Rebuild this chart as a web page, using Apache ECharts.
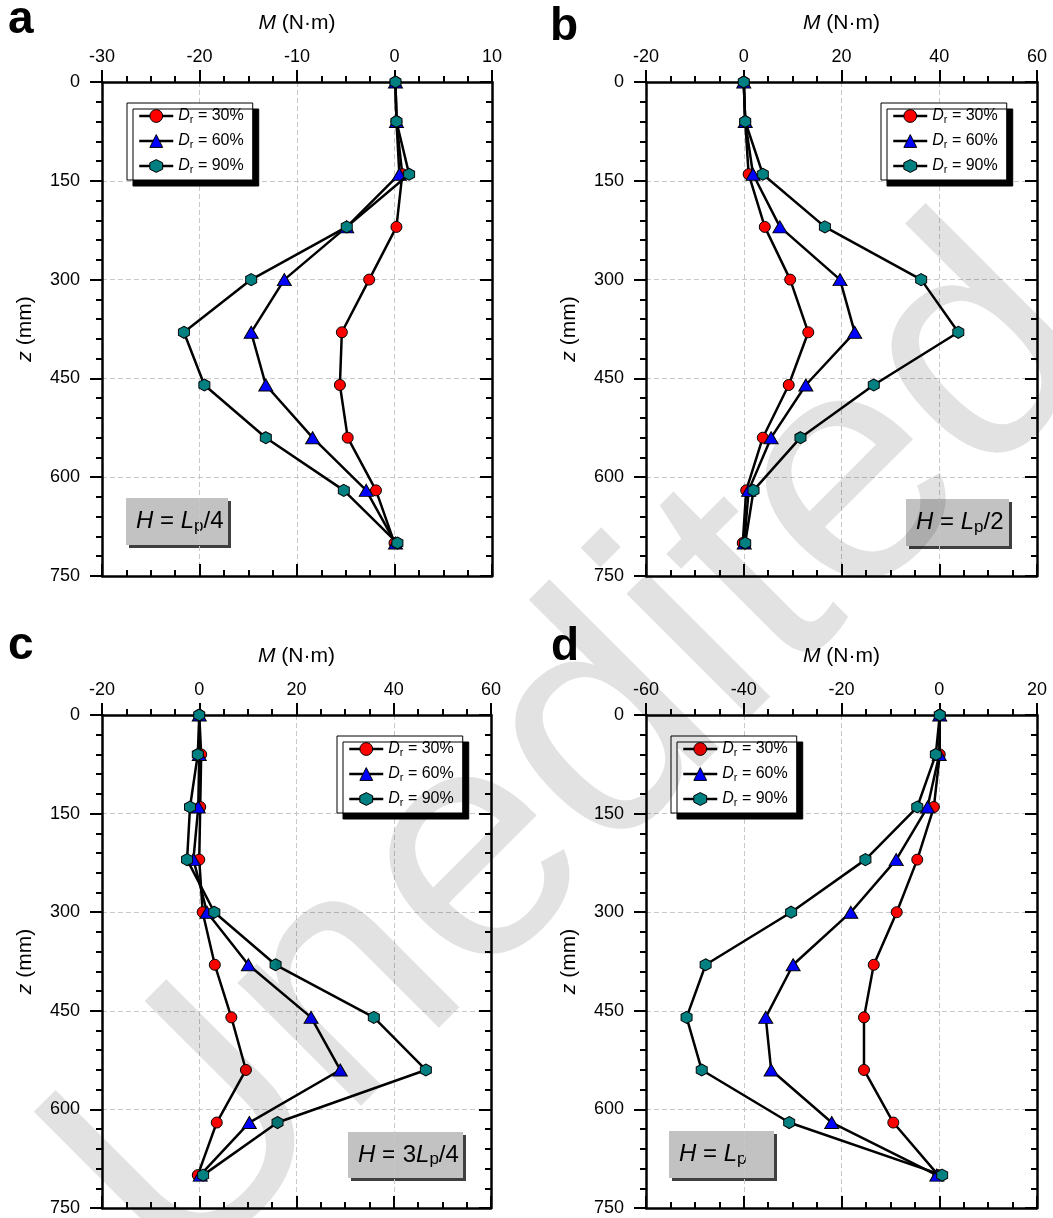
<!DOCTYPE html>
<html>
<head>
<meta charset="utf-8">
<script src="https://cdn.jsdelivr.net/npm/echarts@6/dist/echarts.min.js"></script>
<style>
  html, body { margin: 0; padding: 0; background: #ffffff; }
  #chart { width: 1053px; height: 1218px; background: #ffffff; }
  #chart canvas[data-zr-dom-id="zr_1"] { mix-blend-mode: multiply; }
</style>
</head>
<body>
<div id="chart"></div>
<script>
const FONT = '"Liberation Sans", Arial, Helvetica, sans-serif';

// Depth of the strain-gauge stations along the pile (mm)
const depthMm = [0, 60, 140, 220, 300, 380, 460, 540, 620, 700];
const depthTicks = [0, 150, 300, 450, 600, 750];
const densityNames = ['Dr = 30%', 'Dr = 60%', 'Dr = 90%'];

// Bending moment M (N·m), H = Lp/4
const momentA30 = [0.1, 0.2, 0.8, 0.2, -2.6, -5.4, -5.6, -4.8, -1.9, 0.0];
const momentA60 = [0.1, 0.2, 0.5, -4.9, -11.3, -14.7, -13.2, -8.4, -2.9, 0.1];
const momentA90 = [0.1, 0.2, 1.5, -4.9, -14.7, -21.6, -19.5, -13.2, -5.2, 0.3];
const ticksA = [-30, -20, -10, 0, 10];

// Bending moment M (N·m), H = Lp/2
const momentB30 = [0.0, 0.3, 1.0, 4.3, 9.5, 13.2, 9.2, 3.9, 0.5, -0.2];
const momentB60 = [0.0, 0.3, 1.9, 7.4, 19.7, 22.7, 12.7, 5.6, 1.0, 0.1];
const momentB90 = [0.0, 0.3, 3.9, 16.6, 36.3, 43.9, 26.6, 11.6, 2.0, 0.3];
const ticksB = [-20, 0, 20, 40, 60];

// Bending moment M (N·m), H = 3Lp/4
const momentC30 = [0.0, 0.4, 0.2, 0.0, 0.7, 3.2, 6.6, 9.6, 3.6, -0.3];
const momentC60 = [0.0, 0.0, -0.2, -1.2, 1.6, 10.1, 23.0, 29.0, 10.3, 0.2];
const momentC90 = [0.0, -0.3, -1.9, -2.5, 3.1, 15.7, 35.9, 46.6, 16.1, 0.8];
const ticksC = [-20, 0, 20, 40, 60];

// Bending moment M (N·m), H = Lp
const momentD30 = [0.1, 0.1, -1.1, -4.5, -8.7, -13.4, -15.4, -15.4, -9.4, -0.2];
const momentD60 = [0.1, 0.0, -2.4, -8.8, -18.1, -29.9, -35.5, -34.4, -22.0, -0.5];
const momentD90 = [0.1, -0.7, -4.5, -15.1, -30.3, -47.8, -51.7, -48.6, -30.7, 0.6];
const ticksD = [-60, -40, -20, 0, 20];

const HEXAGON = 'path://M0,-10 L8.66,-5 L8.66,5 L0,10 L-8.66,5 L-8.66,-5 Z';
const markerStyles = [
  { symbol: 'circle', size: 11, color: '#ff0000' },
  { symbol: 'triangle', size: [14, 12], color: '#0000ff' },
  { symbol: HEXAGON, size: [11, 12], color: '#008080' }
];

const panels = [
  { letter: 'a', letterPos: [8, 36], grid: { left: 102, top: 82, width: 390, height: 494 },
    ticks: ticksA, moments: [momentA30, momentA60, momentA90],
    legendPos: [127, 103], note: { x: 126, y: 498, w: 102, h: 47, text: '{i|H} = {i|L}{s|p}/4' } },
  { letter: 'b', letterPos: [550, 43], grid: { left: 646, top: 82, width: 391, height: 494 },
    ticks: ticksB, moments: [momentB30, momentB60, momentB90],
    legendPos: [881, 103], note: { x: 906, y: 499, w: 103, h: 47, text: '{i|H} = {i|L}{s|p}/2' } },
  { letter: 'c', letterPos: [8, 662], grid: { left: 102, top: 715, width: 389, height: 493 },
    ticks: ticksC, moments: [momentC30, momentC60, momentC90],
    legendPos: [337, 736], note: { x: 348, y: 1132, w: 115, h: 46, text: '{i|H} = 3{i|L}{s|p}/4' } },
  { letter: 'd', letterPos: [551, 663], grid: { left: 646, top: 715, width: 391, height: 493 },
    ticks: ticksD, moments: [momentD30, momentD60, momentD90],
    legendPos: [671, 736], note: { x: 669, y: 1131, w: 105, h: 47, text: '{i|H} = {i|L}{s|p}' } }
];

const black = '#000000';
const gridDash = { color: '#c8c8c8', width: 1, type: [5, 3] };

const option = {
  backgroundColor: '#ffffff',
  animation: false,
  textStyle: { fontFamily: FONT },
  grid: [], xAxis: [], yAxis: [], series: [], legend: [], graphic: []
};

function frameAxisCommon() {
  return {
    axisLine: { show: true, onZero: false, lineStyle: { color: black, width: 2.5 } },
    axisTick: { show: true, length: 12, lineStyle: { color: black, width: 2 } },
    minorTick: { show: true, length: 6, lineStyle: { color: black, width: 2 } },
    minorSplitLine: { show: false }
  };
}

panels.forEach((p, k) => {
  option.grid.push(Object.assign({ containLabel: false, outerBoundsMode: 'none' }, p.grid));

  const xMin = p.ticks[0];
  const xMax = p.ticks[p.ticks.length - 1];
  const xStep = p.ticks[1] - p.ticks[0];
  const yMin = depthTicks[0];
  const yMax = depthTicks[depthTicks.length - 1];
  const yStep = depthTicks[1] - depthTicks[0];

  // labelled top axis
  const xTop = frameAxisCommon();
  Object.assign(xTop, {
    type: 'value', gridIndex: k, position: 'top', min: xMin, max: xMax, interval: xStep,
    name: '{i|M} (N·m)', nameLocation: 'middle', nameGap: 48, nameMoveOverlap: false,
    nameTextStyle: { fontSize: 21, color: black, fontFamily: FONT,
      rich: { i: { fontStyle: 'italic', fontSize: 21, fontFamily: FONT, color: black } } },
    axisLabel: { show: true, margin: 16, fontSize: 18, color: black, fontFamily: FONT },
    splitLine: { show: true, lineStyle: gridDash }
  });
  xTop.axisTick.inside = false;
  xTop.minorTick.splitNumber = 4;
  option.xAxis.push(xTop);

  // bottom frame axis, ticks pointing inward
  const xBottom = frameAxisCommon();
  Object.assign(xBottom, {
    type: 'value', gridIndex: k, position: 'bottom', min: xMin, max: xMax, interval: xStep,
    axisLabel: { show: false }, splitLine: { show: false }
  });
  xBottom.axisTick.inside = true;
  xBottom.minorTick.splitNumber = 4;
  option.xAxis.push(xBottom);

  // labelled left depth axis (depth increases downward)
  const yLeft = frameAxisCommon();
  Object.assign(yLeft, {
    type: 'value', gridIndex: k, position: 'left', inverse: true, min: yMin, max: yMax, interval: yStep,
    name: '{i|z} (mm)', nameLocation: 'middle', nameGap: 66, nameRotate: 90, nameMoveOverlap: false,
    nameTextStyle: { fontSize: 21, color: black, fontFamily: FONT,
      rich: { i: { fontStyle: 'italic', fontSize: 21, fontFamily: FONT, color: black } } },
    axisLabel: { show: true, margin: 22, fontSize: 18, color: black, fontFamily: FONT },
    splitLine: { show: true, lineStyle: gridDash }
  });
  yLeft.axisTick.inside = false;
  yLeft.minorTick.splitNumber = 5;
  option.yAxis.push(yLeft);

  // right frame axis, ticks pointing inward
  const yRight = frameAxisCommon();
  Object.assign(yRight, {
    type: 'value', gridIndex: k, position: 'right', inverse: true, min: yMin, max: yMax, interval: yStep,
    axisLabel: { show: false }, splitLine: { show: false }
  });
  yRight.axisTick.inside = true;
  yRight.minorTick.splitNumber = 5;
  option.yAxis.push(yRight);

  p.moments.forEach((values, j) => {
    const m = markerStyles[j];
    option.series.push({
      type: 'line', name: densityNames[j],
      xAxisIndex: 2 * k, yAxisIndex: 2 * k,
      data: values.map((v, i) => [v, depthMm[i]]),
      symbol: m.symbol, symbolSize: m.size, showSymbol: true, showAllSymbol: true,
      itemStyle: { color: m.color, borderColor: black, borderWidth: 1 },
      lineStyle: { color: black, width: 2.5 },
      emphasis: { disabled: true },
      clip: false,
      z: 3 + j
    });
  });

  option.legend.push({
    show: true, orient: 'vertical', left: p.legendPos[0], top: p.legendPos[1],
    data: densityNames, selectedMode: false,
    itemWidth: 34, itemHeight: 16, itemGap: 8,
    padding: [5, 9, 5, 11],
    backgroundColor: '#ffffff', borderColor: black, borderWidth: 1, borderRadius: 0,
    shadowColor: black, shadowBlur: 0, shadowOffsetX: 6, shadowOffsetY: 6,
    itemStyle: { borderColor: black, borderWidth: 1 },
    lineStyle: { color: black, width: 2.5 },
    formatter: name => '{i|D}{s|r}{t| = ' + name.split('= ')[1] + '}',
    textStyle: {
      fontSize: 16, color: black, fontFamily: FONT,
      rich: {
        i: { fontStyle: 'italic', fontSize: 16, lineHeight: 18, fontFamily: FONT, color: black },
        s: { fontSize: 11, lineHeight: 8, verticalAlign: 'bottom', fontFamily: FONT, color: black },
        t: { fontSize: 16, lineHeight: 18, fontFamily: FONT, color: black }
      }
    }
  });

  // panel letter
  option.graphic.push({
    type: 'text', x: p.letterPos[0], y: p.letterPos[1] - 0.3465 * 46, z: 20, silent: true,
    style: { text: p.letter, font: 'bold 46px ' + FONT, fill: black, align: 'left', verticalAlign: 'middle' }
  });

  // loading-case label box
  const n = p.note;
  option.graphic.push({
    type: 'group', z: 20, silent: true,
    children: [
      { type: 'rect', shape: { x: n.x + 3, y: n.y + 3, width: n.w, height: n.h }, style: { fill: '#3f3f3f' } },
      { type: 'rect', shape: { x: n.x, y: n.y, width: n.w, height: n.h }, style: { fill: '#c2c2c2' } },
      { type: 'text', x: n.x + 10, y: n.y + n.h / 2,
        style: {
          text: n.text, fontSize: 24, fontFamily: FONT, fill: black, align: 'left', verticalAlign: 'middle',
          rich: {
            i: { fontStyle: 'italic', fontSize: 24, lineHeight: 26, fontFamily: FONT, fill: black },
            s: { fontSize: 17, lineHeight: 13, verticalAlign: 'bottom', fontFamily: FONT, fill: black }
          }
        } }
    ]
  });
});

// diagonal "Unedited" stamp across the figure, on its own layer (multiplied over the plot)
option.graphic.push({
  type: 'text', x: 579, y: 759, rotation: Math.PI / 4, zlevel: 1, z: 0, silent: true,
  style: {
    text: 'Unedited', font: '330px ' + FONT, fill: '#e2e2e2',
    align: 'center', verticalAlign: 'middle'
  }
});

const chart = echarts.init(document.getElementById('chart'), null, { renderer: 'canvas' });
chart.setOption(option);
</script>
</body>
</html>
